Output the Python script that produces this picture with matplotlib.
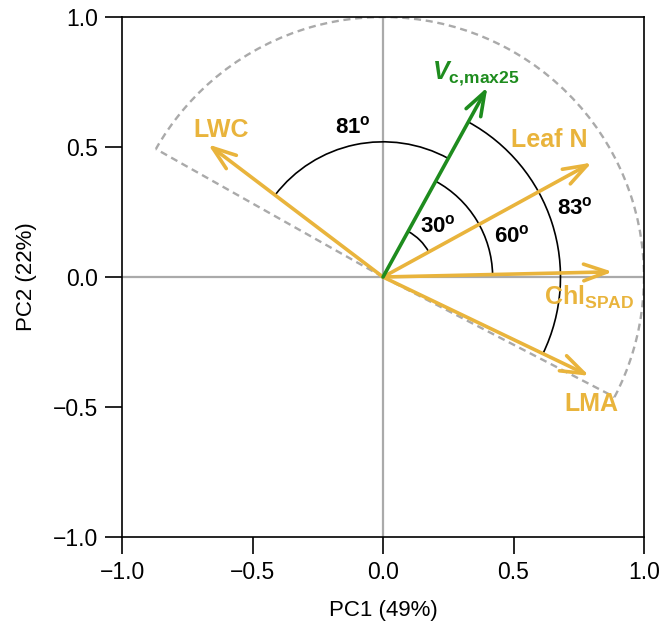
import numpy as np
import matplotlib
matplotlib.use('Agg')
import matplotlib.pyplot as plt
from matplotlib.patches import Arc

plt.rcParams.update({
    'font.family': ['Liberation Sans', 'DejaVu Sans'],
    'mathtext.fontset': 'custom',
    'mathtext.rm': 'Liberation Sans',
    'mathtext.bf': 'Liberation Sans:bold',
    'mathtext.it': 'Liberation Sans:italic',
    'mathtext.bfit': 'Liberation Sans:italic:bold',
})

# ─── data ───────────────────────────────────────────────────────────────────
var_names = ['LWC', 'Leaf N', 'Chl', 'LMA', 'Vcmax']
pc1 = [-0.67, 0.80, 0.88, 0.79, 0.40]
pc2 = [0.51, 0.44, 0.02, -0.38, 0.73]
var_labels = ['LWC', 'Leaf N', r'$\mathbf{Chl}_{\mathbf{SPAD}}$', 'LMA',
              r'$\mathbfit{V}_{\mathbf{c{,}max25}}$']
label_x = [-0.62, 0.636, 0.79, 0.80, 0.355]
label_y = [0.565, 0.527, -0.08, -0.49, 0.78]

# angle arcs: between two variables, radius, label, label position
arc_pairs = [('LWC', 'Vcmax'), ('Vcmax', 'Leaf N'), ('Vcmax', 'Chl'), ('Vcmax', 'LMA')]
arc_radius = [0.52, 0.20, 0.42, 0.68]
arc_text = ['81', '30', '60', '83']
arc_text_x = [-0.117, 0.21, 0.495, 0.735]
arc_text_y = [0.577, 0.196, 0.157, 0.265]

# dashed envelope sector
env_r = 1.0
env_theta1, env_theta2 = -27.5, 150.5

GOLD = '#E9B43C'
GREEN = '#1E8C1E'
GREY = '#AAAAAA'

fig = plt.figure(figsize=(6.67, 6.30), dpi=100)
ax = fig.add_axes([0.183, 0.1476, 0.7825, 0.8254])

ax.axhline(0, color=GREY, lw=1.6, zorder=1)
ax.axvline(0, color=GREY, lw=1.6, zorder=1)

# envelope
ax.add_patch(Arc((0, 0), 2 * env_r, 2 * env_r, theta1=env_theta1, theta2=env_theta2,
                 color=GREY, lw=1.7, ls=(0, (3, 2)), zorder=2))
for th in (env_theta1, env_theta2):
    ax.plot([0, env_r * np.cos(np.radians(th))], [0, env_r * np.sin(np.radians(th))],
            color=GREY, lw=1.7, ls=(0, (3, 2)), zorder=2)

# angle arcs
angles = {n: np.degrees(np.arctan2(y, x)) for n, x, y in zip(var_names, pc1, pc2)}
for (a, b), r, t, tx, ty in zip(arc_pairs, arc_radius, arc_text, arc_text_x, arc_text_y):
    t1, t2 = sorted([angles[a], angles[b]])
    ax.add_patch(Arc((0, 0), 2 * r, 2 * r, theta1=t1, theta2=t2, color='black', lw=1.2, zorder=3))
    ax.text(tx, ty, r'$\mathbf{' + t + r'}^{\mathbf{o}}$', fontsize=16,
            ha='center', va='center', zorder=5)

# arrows
for n, x, y, lab, lx, ly in zip(var_names, pc1, pc2, var_labels, label_x, label_y):
    c = GREEN if n == 'Vcmax' else GOLD
    ax.annotate('', xy=(x, y), xytext=(0, 0),
                arrowprops=dict(arrowstyle='->,head_length=1.7,head_width=0.6',
                                lw=2.6, color=c, shrinkA=0, shrinkB=0), zorder=4)
    ax.text(lx, ly, lab, color=c, fontsize=18, fontweight='bold',
            ha='center', va='center', zorder=5)

ax.set_xlim(-1, 1)
ax.set_ylim(-1, 1)
ax.set_xticks([-1, -0.5, 0, 0.5, 1])
ax.set_yticks([-1, -0.5, 0, 0.5, 1])
ax.set_xticklabels(['\u22121.0', '\u22120.5', '0.0', '0.5', '1.0'])
ax.set_yticklabels(['\u22121.0', '\u22120.5', '0.0', '0.5', '1.0'])
ax.tick_params(direction='out', length=12, width=1.2, labelsize=16.5, pad=5)
for s in ax.spines.values():
    s.set_linewidth(1.2)
ax.set_xlabel('PC1 (49%)', fontsize=16, labelpad=12)
ax.set_ylabel('PC2 (22%)', fontsize=16, labelpad=12)

plt.savefig('out.png', dpi=100)
